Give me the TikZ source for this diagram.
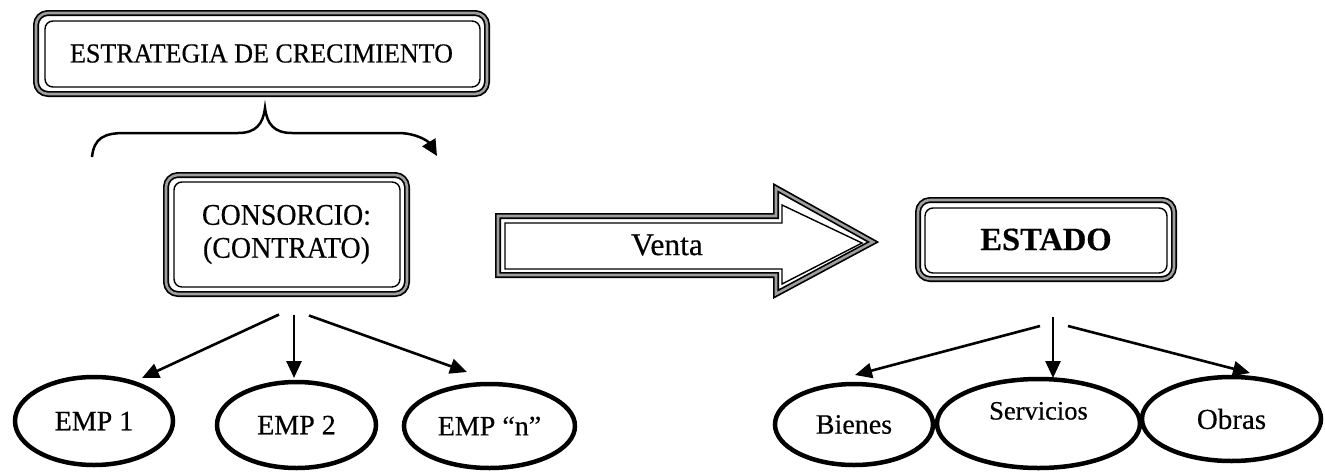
\documentclass[tikz,border=0pt]{standalone}
\usepackage{fontspec}
\setmainfont[FakeBold=0.4]{Liberation Serif}
\newfontfamily\fntA[FakeStretch=0.947,FakeBold=0.4]{Liberation Serif}
\newfontfamily\fntB[FakeStretch=0.93,FakeBold=0.4]{Liberation Serif}
\usetikzlibrary{arrows.meta,calc,shapes.geometric}
\tikzset{
  band/.style={draw=black, line width=6pt, postaction={draw=black!38, line width=2.6pt}},
  frame/.style={band, rounded corners=12pt, inner sep=0pt, outer sep=0pt, align=center},
  innerline/.style={draw=black, line width=1.4pt, rounded corners=8pt},
  oval/.style={ellipse, draw=black, line width=4.5pt, inner sep=0pt, outer sep=0pt, font=\fontsize{28}{33}\selectfont},
  conn/.style={line width=2.6pt, -{Triangle[length=17pt,width=15pt]}},
  bracepath/.style={line width=2.5pt, -{Triangle[length=16pt,width=15pt]}},
}
\begin{document}
\begin{tikzpicture}[x=1pt,y=-1pt]
\useasboundingbox[fill=white] (0,0) rectangle (1325,472);

% boxes
\node[frame, minimum width=451pt, minimum height=81pt, font=\fntA\fontsize{27.5}{32}\selectfont] (top) at (261.5,53.5) {ESTRATEGIA DE CRECIMIENTO};
\draw[innerline] ([shift={(9,8)}]top.north west) rectangle ([shift={(-7,-7)}]top.south east);

\node[frame, minimum width=241pt, minimum height=119pt, font=\fntB\fontsize{30}{33}\selectfont] (cons) at (286.5,234.5) {CONSORCIO:\\(CONTRATO)};
\draw[innerline] ([shift={(8,7)}]cons.north west) rectangle ([shift={(-7,-7)}]cons.south east);

\node[frame, minimum width=256pt, minimum height=79pt, font=\fontsize{32.5}{38}\selectfont\bfseries] (estado) at (1046,239.5) {ESTADO};
\draw[innerline] ([shift={(7,8)}]estado.north west) rectangle ([shift={(-7,-6)}]estado.south east);

% brace
\coordinate (bl) at (92,157);
\coordinate (bt) at (265,108);
\coordinate (br) at (437,156);
\draw[bracepath] (bl) .. controls (94,138) and (104,133) .. (125,133) -- (238,133)
  .. controls (256,133) and (263,124) .. (bt)
  .. controls (267,124) and (274,133) .. (292,133) -- (398,133)
  .. controls (416,133) and (428,141) .. (br);

% Venta arrow
\draw[band, line join=miter] (498,216) -- (776,216) -- (776,188) -- (873,242) -- (776,294) -- (776,275) -- (498,275) -- cycle;
\draw[line width=1.4pt, line join=miter] (505,223) -- (782,223) -- (782,205) -- (862,243) -- (782,284) -- (782,269) -- (505,269) -- cycle;
\node[font=\fontsize{31.5}{36}\selectfont] (venta) at (667,245) {Venta};

% ellipses
\node[oval, minimum width=158pt, minimum height=88pt] (emp1) at (94,421) {EMP 1};
\node[oval, minimum width=159pt, minimum height=86pt] (emp2) at (296.5,425) {EMP 2};
\node[oval, minimum width=171pt, minimum height=84pt] (empn) at (489.5,426) {EMP ``n''};
\node[oval, minimum width=158pt, minimum height=81pt] (bienes) at (854,424.5) {Bienes};
\node[oval, minimum width=203pt, minimum height=89pt, font=\fontsize{26.5}{31}\selectfont, text height=18pt, text depth=26pt] (serv) at (1038.5,423.5) {Servicios};
\node[oval, minimum width=179pt, minimum height=84pt, font=\fontsize{29}{34}\selectfont] (obras) at (1231.5,419) {Obras};

% connectors
\draw[conn] ($(cons.south)+(-7.5,20.5)$) -- ($(emp1.north)+(48,1)$);
\draw[conn] ($(cons.south)+(7.5,20.5)$) -- ($(emp2.north)+(-2.5,-4)$);
\draw[conn] ($(cons.south)+(22.5,21.5)$) -- ($(empn.north)+(-22.5,-12)$);

\draw[conn] ($(estado.south)+(-6,47)$) -- ($(bienes.north)+(1,-9)$);
\draw[conn] ($(estado.south)+(7,38)$) -- ($(serv.north)+(14.5,-1)$);
\draw[conn] ($(estado.south)+(22,47)$) -- ($(obras.north)+(18.5,-4)$);
\end{tikzpicture}
\end{document}
